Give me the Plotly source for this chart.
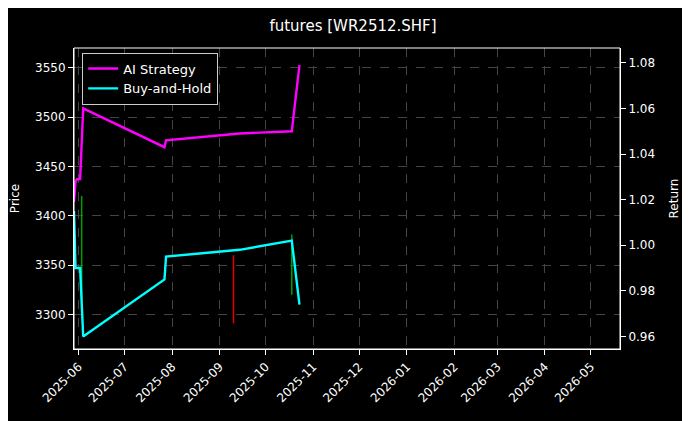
import plotly.graph_objects as go

# strategy curves (right axis)
ai_dates = ["2025-05-29", "2025-05-30", "2025-05-31", "2025-06-02", "2025-06-04", "2025-07-27",
            "2025-07-28", "2025-09-14", "2025-10-18", "2025-10-23"]
ai_ret = [1.019, 1.028, 1.029, 1.029, 1.060, 1.043, 1.046, 1.049, 1.050, 1.079]
bh_dates = ai_dates
bh_ret = [1.015, 0.990, 0.990, 0.990, 0.960, 0.985, 0.995, 0.998, 1.002, 0.974]

# price wicks (left axis)
px_dates = ["2025-06-03", "2025-09-10", "2025-10-18"]
px_low = [3314, 3291, 3320]
px_high = [3420, 3360, 3381]
px_color = ["#00a000", "#e00000", "#00a000"]

fig = go.Figure()
for d, lo, hi, c in zip(px_dates, px_low, px_high, px_color):
    fig.add_trace(go.Scatter(x=[d, d], y=[lo, hi], mode="lines", line=dict(color=c, width=1.5),
                             showlegend=False, hoverinfo="skip"))
fig.add_trace(go.Scatter(x=ai_dates, y=ai_ret, yaxis="y2", mode="lines", name="AI Strategy",
                         line=dict(color="#ff00ff", width=2.4)))
fig.add_trace(go.Scatter(x=bh_dates, y=bh_ret, yaxis="y2", mode="lines", name="Buy-and-Hold",
                         line=dict(color="#00ffff", width=2.4)))

grid = dict(showgrid=True, gridcolor="#444", griddash="dash", gridwidth=0.6, zeroline=False,
            showline=True, linecolor="white", mirror=False, ticks="outside", tickcolor="white",
            tickfont=dict(color="white", size=12), automargin=False)
fig.update_layout(
    width=690, height=421, paper_bgcolor="black", plot_bgcolor="black",
    font=dict(family="DejaVu Sans", color="white", size=12),
    title=dict(text="futures [WR2512.SHF]", x=0.5, xanchor="center", y=0.97, font=dict(size=15)),
    margin=dict(l=66, r=78, t=40, b=80),
    xaxis=dict(**grid, range=["2025-05-29", "2026-05-20"], dtick="M1", tickformat="%Y-%m",
               tickangle=-45),
    yaxis=dict(**grid, title=dict(text="Price", font=dict(size=12)), range=[3265, 3570],
               tickvals=[3300, 3350, 3400, 3450, 3500, 3550]),
    yaxis2=dict(overlaying="y", side="right", showgrid=False, zeroline=False, showline=True,
                linecolor="white", ticks="outside", tickcolor="white", automargin=False,
                tickfont=dict(color="white", size=12), range=[0.9545, 1.0865],
                tickvals=[0.96, 0.98, 1.00, 1.02, 1.04, 1.06, 1.08], tickformat=".2f",
                title=dict(text="Return", font=dict(size=12))),
    legend=dict(x=0.015, y=0.985, xanchor="left", yanchor="top", bgcolor="black",
                bordercolor="#ccc", borderwidth=1, font=dict(size=13)),
)
fig.add_shape(type="rect", xref="paper", yref="paper", x0=0, y0=0, x1=1, y1=1,
              line=dict(color="white", width=1))
fig.write_html("out.html")
